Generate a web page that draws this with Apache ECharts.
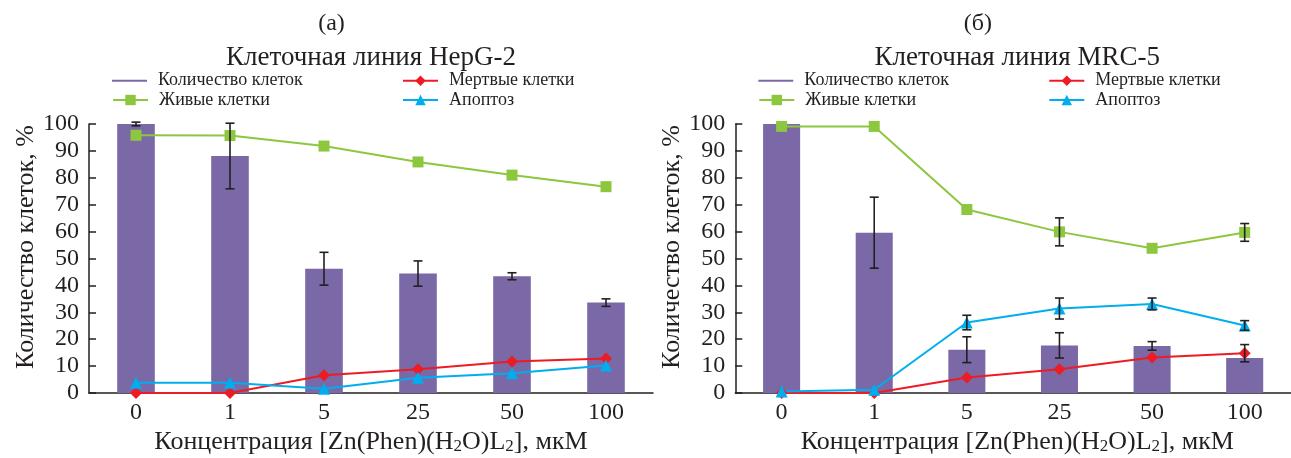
<!DOCTYPE html>
<html>
<head>
<meta charset="utf-8">
<script src="https://cdn.jsdelivr.net/npm/echarts@6/dist/echarts.min.js"></script>
<style>html,body{margin:0;padding:0;background:#fff;}#c{width:1291px;height:458px;}</style>
</head>
<body>
<div id="c"></div>
<script>
// ---- data ----
const categories = ['0', '1', '5', '25', '50', '100'];
const yTicks = [0, 100, 10]; // min, max, interval

// (а) HepG-2
const hepCount = [100, 88.1, 46.2, 44.4, 43.4, 33.6];
const hepCountErr = [0.7, 12.2, 6.1, 4.7, 1.3, 1.4];
const hepLive = [95.8, 95.7, 91.8, 85.9, 81.0, 76.7];
const hepDead = [0, 0, 6.6, 8.8, 11.7, 12.8];
const hepApop = [3.8, 3.8, 1.6, 5.7, 7.3, 10.2];

// (б) MRC-5
const mrcCount = [100, 59.6, 16.1, 17.7, 17.5, 13.0];
const mrcCountErr = [null, 13.2, 4.8, 4.7, 1.6, null];
const mrcLive = [99.1, 99.1, 68.2, 59.9, 53.8, 59.7];
const mrcLiveErr = [null, null, null, 5.2, null, 3.3];
const mrcDead = [0, 0, 5.8, 8.8, 13.2, 14.8];
const mrcDeadErr = [null, null, null, null, null, 3.2];
const mrcApop = [0.6, 1.2, 26.2, 31.4, 33.1, 25.1];
const mrcApopErr = [null, null, 2.7, 3.9, 2.2, 1.8];

const names = ['Количество клеток', 'Мертвые клетки', 'Живые клетки', 'Апоптоз'];
const panelLabels = ['(а)', '(б)'];
const panelTitles = ['Клеточная линия HepG-2', 'Клеточная линия MRC-5'];
const yTitle = 'Количество клеток, %';

// ---- style ----
const FONT = '"Liberation Serif", "Times New Roman", serif';
const INK = '#231f20';
const C_BAR = '#7b68a6', C_LIVE = '#8dc63f', C_DEAD = '#ed1c24', C_APOP = '#00aeef';
const DX = 646.3;

function errData(vals, errs) {
  const out = [];
  vals.forEach((v, i) => { if (errs[i] != null) out.push([i, v - errs[i], v + errs[i]]); });
  return out;
}
function errRender(params, api) {
  const x = api.value(0);
  const lo = api.coord([x, api.value(1)]);
  const hi = api.coord([x, api.value(2)]);
  const w = 4.5;
  const st = { stroke: INK, lineWidth: 1.6 };
  return { type: 'group', children: [
    { type: 'line', shape: { x1: lo[0], y1: lo[1], x2: hi[0], y2: hi[1] }, style: st },
    { type: 'line', shape: { x1: lo[0] - w, y1: lo[1], x2: lo[0] + w, y2: lo[1] }, style: st },
    { type: 'line', shape: { x1: hi[0] - w, y1: hi[1], x2: hi[0] + w, y2: hi[1] }, style: st }
  ]};
}

function gridFor(p) { return { left: 89 + p * DX, width: 564, top: 124, height: 269, containLabel: false }; }
function xAxisFor(p) {
  return { type: 'category', gridIndex: p, data: categories, boundaryGap: true,
    axisLine: { lineStyle: { color: INK, width: 1.5 } }, axisTick: { show: false },
    axisLabel: { color: INK, fontFamily: FONT, fontSize: 24, margin: 8 } };
}
function yAxisFor(p) {
  return { type: 'value', gridIndex: p, min: yTicks[0], max: yTicks[1], interval: yTicks[2],
    splitLine: { show: false },
    axisLine: { show: true, lineStyle: { color: INK, width: 1.5 } },
    axisTick: { show: true, inside: true, length: 7, lineStyle: { color: INK, width: 1.5 } },
    axisLabel: { color: INK, fontFamily: FONT, fontSize: 24, margin: 10 } };
}
function lineSeries(p, name, data, color, symbol, size) {
  return { type: 'line', name: name, xAxisIndex: p, yAxisIndex: p, data: data,
    symbol: symbol, symbolSize: size, showSymbol: true, z: 3,
    lineStyle: { color: color, width: 2 }, itemStyle: { color: color } };
}
function legendItem(name, x, y, isBar) {
  const o = { left: x, top: y, padding: 0, itemWidth: 35, itemHeight: isBar ? 2 : 13,
    data: [name], selectedMode: false,
    textStyle: { fontFamily: FONT, fontSize: 18, color: INK, lineHeight: 20, padding: [0, 0, 0, 6] } };
  if (isBar) o.icon = 'rect';
  return o;
}

const panels = [
  { count: hepCount, countErr: hepCountErr, live: hepLive, liveErr: [null,null,null,null,null,null],
    dead: hepDead, deadErr: [null,null,null,null,null,null], apop: hepApop, apopErr: [null,null,null,null,null,null] },
  { count: mrcCount, countErr: mrcCountErr, live: mrcLive, liveErr: mrcLiveErr,
    dead: mrcDead, deadErr: mrcDeadErr, apop: mrcApop, apopErr: mrcApopErr }
];

const series = [];
const legends = [];
const graphics = [];
panels.forEach((d, p) => {
  const ox = p * DX;
  series.push({ type: 'bar', name: names[0], xAxisIndex: p, yAxisIndex: p, data: d.count,
    barWidth: '40%', itemStyle: { color: C_BAR }, z: 2 });
  series.push(lineSeries(p, names[2], d.live, C_LIVE, 'rect', 11));
  series.push(lineSeries(p, names[1], d.dead, C_DEAD, 'diamond', 12));
  series.push(lineSeries(p, names[3], d.apop, C_APOP, 'triangle', 12));
  const eb = [].concat(errData(d.count, d.countErr), errData(d.live, d.liveErr),
    errData(d.dead, d.deadErr), errData(d.apop, d.apopErr));
  series.push({ type: 'custom', name: 'err' + p, xAxisIndex: p, yAxisIndex: p, data: eb,
    renderItem: errRender, encode: { x: 0, y: [1, 2] }, z: 10, silent: true });

  legends.push(legendItem(names[0], 112 + ox, 70.7, true));
  legends.push(legendItem(names[1], 402 + ox, 70.7, false));
  legends.push(legendItem(names[2], 112 + ox, 90, false));
  legends.push(legendItem(names[3], 402 + ox, 90, false));

  graphics.push({ type: 'text', x: 331.5 + ox, y: 24, style: { text: panelLabels[p], fontFamily: FONT,
    fontSize: 24, fill: INK, textAlign: 'center', textVerticalAlign: 'middle' } });
  graphics.push({ type: 'text', x: 371 + ox, y: 58, style: { text: panelTitles[p], fontFamily: FONT,
    fontSize: 27, fill: INK, textAlign: 'center', textVerticalAlign: 'middle' } });
  graphics.push({ type: 'text', x: 26 + ox, y: 247, rotation: Math.PI / 2, style: { text: yTitle,
    fontFamily: FONT, fontSize: 26, fill: INK, textAlign: 'center', textVerticalAlign: 'middle' } });
  graphics.push({ type: 'text', x: 371 + ox, y: 440, style: {
    text: '{n|Концентрация [Zn(Phen)(H}{s|2}{n|O)L}{s|2}{n|], мкМ}',
    textAlign: 'center', textVerticalAlign: 'middle', fill: INK,
    rich: { n: { fontFamily: FONT, fontSize: 26, lineHeight: 30, verticalAlign: 'bottom', fill: INK },
            s: { fontFamily: FONT, fontSize: 17, lineHeight: 17, verticalAlign: 'bottom', fill: INK } } } });
});

const chart = echarts.init(document.getElementById('c'), null, { renderer: 'canvas' });
chart.setOption({
  animation: false,
  backgroundColor: '#ffffff',
  grid: [gridFor(0), gridFor(1)],
  xAxis: [xAxisFor(0), xAxisFor(1)],
  yAxis: [yAxisFor(0), yAxisFor(1)],
  legend: legends,
  graphic: graphics,
  series: series
});
</script>
</body>
</html>
